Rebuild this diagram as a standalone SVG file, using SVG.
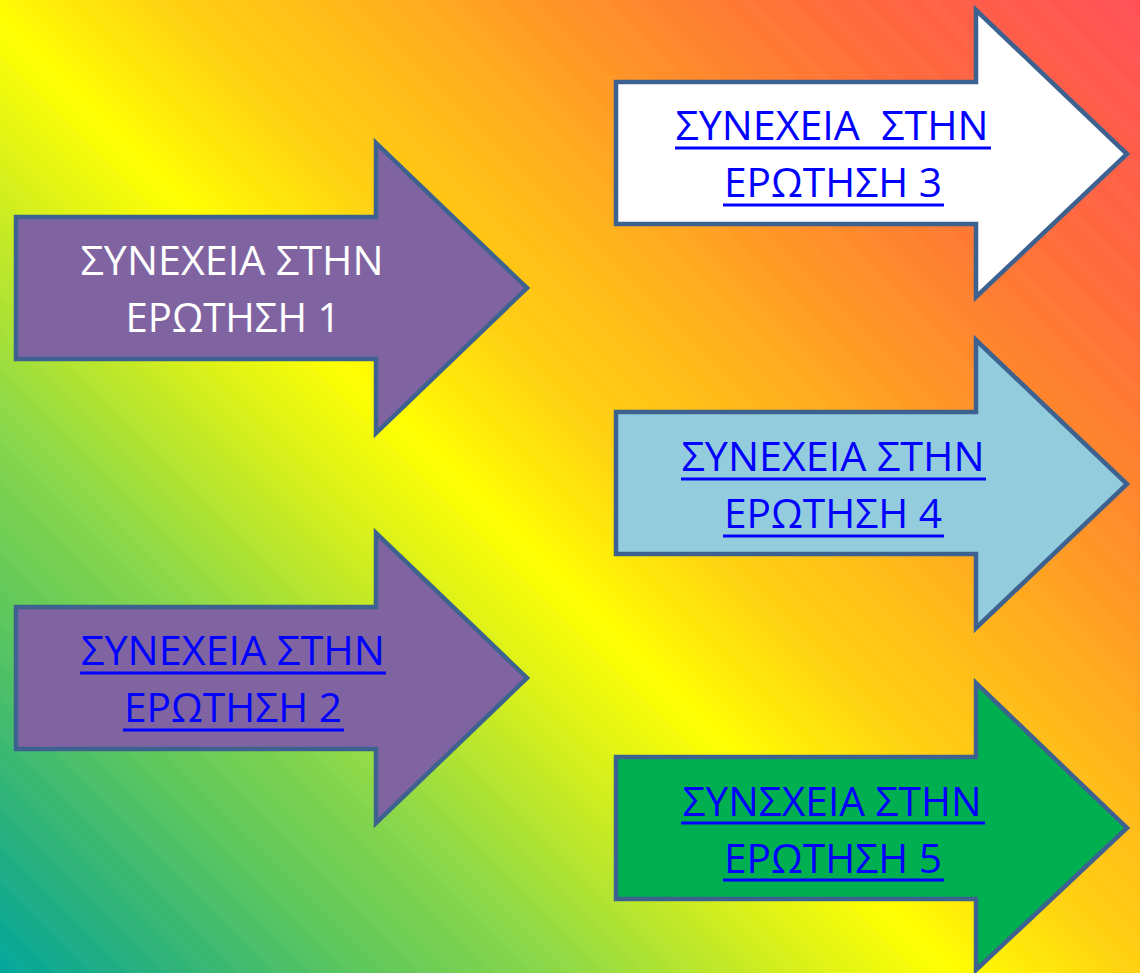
<svg xmlns="http://www.w3.org/2000/svg" width="1140" height="973" viewBox="0 0 1140 973">
  <defs>
    <linearGradient id="bg" gradientUnits="userSpaceOnUse" x1="0" y1="973" x2="1056" y2="-83">
      <stop offset="0" stop-color="#00A59C"/>
      <stop offset="0.063" stop-color="#22AE80"/>
      <stop offset="0.177" stop-color="#5FC85A"/>
      <stop offset="0.257" stop-color="#86D64A"/>
      <stop offset="0.38" stop-color="#D8F018"/>
      <stop offset="0.45" stop-color="#FFFF00"/>
      <stop offset="0.54" stop-color="#FFD010"/>
      <stop offset="0.62" stop-color="#FFB818"/>
      <stop offset="0.75" stop-color="#FF8A2A"/>
      <stop offset="0.85" stop-color="#FF6A3A"/>
      <stop offset="1" stop-color="#FF5058"/>
    </linearGradient>
    <pattern id="stripes" patternUnits="userSpaceOnUse" width="26" height="26" patternTransform="rotate(-45)">
      <rect x="0" y="0" width="13" height="26" fill="#ffffff" fill-opacity="0.02"/>
    </pattern>
  </defs>
  <style>
    .arrow { stroke: #3E6290; stroke-width: 4.5; stroke-linejoin: miter; }
    .lbl { font-family: "Open Sans", "Liberation Sans", sans-serif; font-size: 40px; font-weight: 500; text-anchor: middle; }
    .white { fill: #FFFFFF; }
    .link { fill: #0000FF; }
    .ul { stroke: #0000FF; stroke-width: 3; }
  </style>
  <rect x="0" y="0" width="1140" height="973" fill="url(#bg)"/>
  <rect x="0" y="0" width="1140" height="973" fill="url(#stripes)"/>

  <g id="connectors"/>

  <g id="node1">
    <path class="arrow" fill="#8064A2" d="M16,217 H376 V143 L527,288 L376,433 V359 H16 Z"/>
    <text class="lbl white" x="232" y="275" textLength="303" lengthAdjust="spacingAndGlyphs">ΣΥΝΕΧΕΙΑ ΣΤΗΝ</text>
    <text class="lbl white" x="233" y="332" textLength="215" lengthAdjust="spacingAndGlyphs">ΕΡΩΤΗΣΗ 1</text>
  </g>

  <g id="node2">
    <path class="arrow" fill="#8064A2" d="M16,607 H376 V533 L527,678 L376,823 V749 H16 Z"/>
    <text class="lbl link" x="233" y="665" textLength="304" lengthAdjust="spacingAndGlyphs">ΣΥΝΕΧΕΙΑ ΣΤΗΝ</text>
    <text class="lbl link" x="233" y="722" textLength="218" lengthAdjust="spacingAndGlyphs">ΕΡΩΤΗΣΗ 2</text>
    <line class="ul" x1="80" y1="673" x2="386" y2="673"/>
    <line class="ul" x1="123" y1="730" x2="344" y2="730"/>
  </g>

  <g id="node3">
    <path class="arrow" fill="#FFFFFF" d="M616,82 H976 V10 L1127,154 L976,297 V224 H616 Z"/>
    <text class="lbl link" x="832" y="140" textLength="313" lengthAdjust="spacingAndGlyphs" xml:space="preserve">ΣΥΝΕΧΕΙΑ  ΣΤΗΝ</text>
    <text class="lbl link" x="833" y="197" textLength="218" lengthAdjust="spacingAndGlyphs">ΕΡΩΤΗΣΗ 3</text>
    <line class="ul" x1="675" y1="148" x2="991" y2="148"/>
    <line class="ul" x1="723" y1="205" x2="944" y2="205"/>
  </g>

  <g id="node4">
    <path class="arrow" fill="#93CDDD" d="M616,412 H976 V340 L1127,484 L976,628 V554 H616 Z"/>
    <text class="lbl link" x="833" y="471" textLength="303" lengthAdjust="spacingAndGlyphs">ΣΥΝΕΧΕΙΑ ΣΤΗΝ</text>
    <text class="lbl link" x="833" y="528" textLength="218" lengthAdjust="spacingAndGlyphs">ΕΡΩΤΗΣΗ 4</text>
    <line class="ul" x1="681" y1="479" x2="986" y2="479"/>
    <line class="ul" x1="723" y1="536" x2="944" y2="536"/>
  </g>

  <g id="node5">
    <path class="arrow" fill="#00B050" d="M616,757 H976 V683 L1127,828 L976,970 V899 H616 Z"/>
    <text class="lbl link" x="832" y="816" textLength="299" lengthAdjust="spacingAndGlyphs">ΣΥΝΣΧΕΙΑ ΣΤΗΝ</text>
    <text class="lbl link" x="833" y="873" textLength="218" lengthAdjust="spacingAndGlyphs">ΕΡΩΤΗΣΗ 5</text>
    <line class="ul" x1="681" y1="823" x2="985" y2="823"/>
    <line class="ul" x1="723" y1="880" x2="944" y2="880"/>
  </g>
</svg>
